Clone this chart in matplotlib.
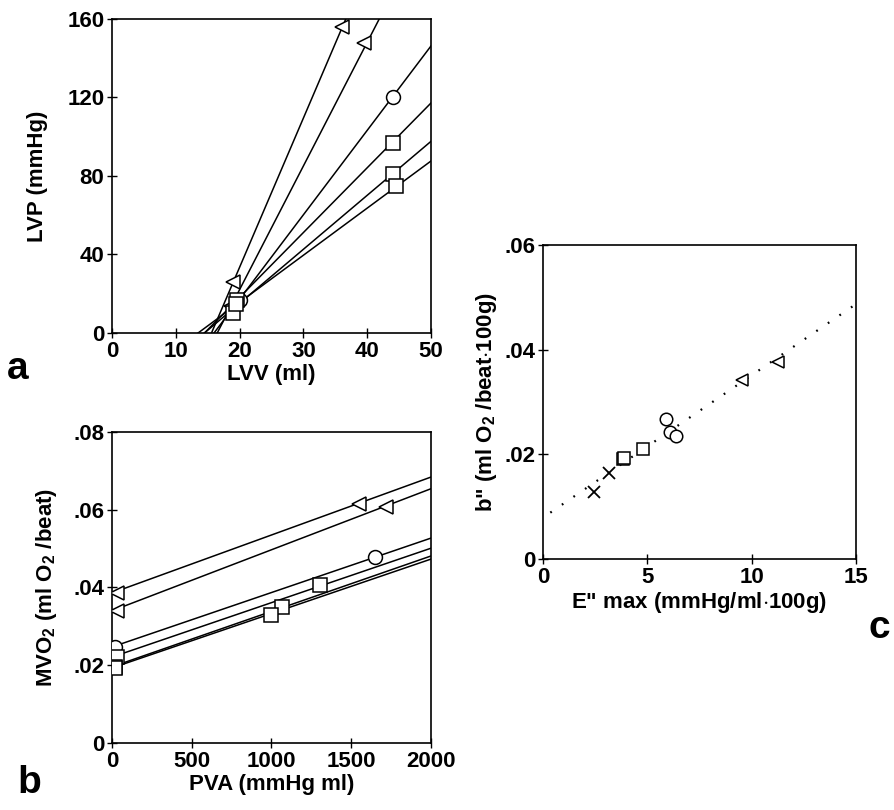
import numpy as np
import matplotlib
matplotlib.use("Agg")
import matplotlib.pyplot as plt
from matplotlib.ticker import FuncFormatter

plt.rcParams['font.family'] = ['Liberation Sans', 'DejaVu Sans']
plt.rcParams['font.weight'] = 'bold'
plt.rcParams['axes.labelweight'] = 'bold'
plt.rcParams['mathtext.fontset'] = 'custom'
plt.rcParams['mathtext.rm'] = 'Liberation Sans:bold'
plt.rcParams['mathtext.it'] = 'Liberation Sans:bold'

# --- panel a: ESPVR lines (LVP vs LVV) ---
a_markers = ['<', '<', 'o', 's', 's', 's']
a_v0 = [15.6, 16.5, 16.0, 14.5, 14.5, 13.5]          # x-intercept (ml)
a_slope = [7.6, 6.3, 4.3, 3.3, 2.75, 2.4]            # mmHg/ml
a_lvv = [[19.0, 36.0], [18.7, 39.5], [20.0, 44.0],
         [19.6, 44.0], [19.0, 44.0], [19.5, 44.5]]
a_lvp = [[26, 156], [14, 148], [17, 120],
         [17, 97], [10, 81], [15, 75]]

# --- panel b: MVO2 vs PVA ---
b_markers = ['<', '<', 'o', 's', 's', 's']
b_icpt = [0.0386, 0.0340, 0.0247, 0.0221, 0.0196, 0.0193]
b_slope = [1.49e-5, 1.57e-5, 1.40e-5, 1.40e-5, 1.425e-5, 1.40e-5]
b_pva = [[30, 1550], [30, 1720], [20, 1650], [30, 1305], [20, 1065], [20, 995]]
b_mvo2 = [[0.0386, 0.0615], [0.0340, 0.0607], [0.0247, 0.0478],
          [0.0222, 0.0406], [0.0196, 0.0350], [0.0193, 0.0330]]

# --- panel c: b" vs E"max ---
c_emax_x = [2.45, 3.17]
c_b_x = [0.0128, 0.0164]
c_emax_sq = [3.82, 3.86, 4.8]
c_b_sq = [0.0191, 0.0193, 0.0210]
c_emax_o = [5.9, 6.08, 6.37]
c_b_o = [0.0268, 0.0243, 0.0235]
c_emax_tri = [9.53, 11.26]
c_b_tri = [0.0342, 0.0377]
c_fit_x = [0.35, 15.0]
c_fit_icpt = 0.0079
c_fit_slope = 0.00272

FS = 16
fig = plt.figure(figsize=(8.95, 8.1), dpi=100)

def style(ax):
    for s in ax.spines.values():
        s.set_linewidth(1.2)
    ax.tick_params(direction='inout', length=7, width=1.0, labelsize=FS, pad=2)

def dotfmt(v, pos):
    if abs(v) < 1e-12:
        return '0'
    return ('%.2f' % v).lstrip('0')

mk = dict(mfc='white', mec='black', mew=1.1, ms=10, ls='none', zorder=3)

# panel a
ax = fig.add_axes([0.1251, 0.5889, 0.3564, 0.3877])
for m, v0, k, xs, ys in zip(a_markers, a_v0, a_slope, a_lvv, a_lvp):
    xx = np.array([v0, 50])
    ax.plot(xx, k * (xx - v0), color='black', lw=1.1)
    ax.plot(xs, ys, marker=m, **mk)
ax.set_xlim(0, 50)
ax.set_ylim(0, 160)
ax.set_xticks([0, 10, 20, 30, 40, 50])
ax.set_yticks([0, 40, 80, 120, 160])
ax.set_xlabel('LVV (ml)', fontsize=FS, labelpad=2)
ax.set_ylabel('LVP (mmHg)', fontsize=FS, labelpad=14)
style(ax)
fig.text(0.02, 0.545, 'a', fontsize=28, fontweight='bold', ha='center', va='center')

# panel b
ax = fig.add_axes([0.1251, 0.0827, 0.3564, 0.384])
for m, b0, k, xs, ys in zip(b_markers, b_icpt, b_slope, b_pva, b_mvo2):
    xx = np.array([0, 2000])
    ax.plot(xx, b0 + k * xx, color='black', lw=1.1)
    ax.plot(xs, ys, marker=m, **mk)
ax.set_xlim(0, 2000)
ax.set_ylim(0, 0.08)
ax.set_xticks([0, 500, 1000, 1500, 2000])
ax.set_yticks([0, 0.02, 0.04, 0.06, 0.08])
ax.yaxis.set_major_formatter(FuncFormatter(dotfmt))
ax.set_xlabel('PVA (mmHg ml)', fontsize=FS, labelpad=2)
ax.set_ylabel('MVO$_2$ (ml O$_2$ /beat)', fontsize=FS, labelpad=10)
style(ax)
fig.text(0.033, 0.033, 'b', fontsize=28, fontweight='bold', ha='center', va='center')

# panel c
ax = fig.add_axes([0.6067, 0.3099, 0.3497, 0.3877])
fx = np.array(c_fit_x)
ax.plot(fx, c_fit_icpt + c_fit_slope * fx, color='black', lw=1.6,
        ls=(0, (0.8, 5.5)))
mk2 = dict(mk, ms=9)
ax.plot(c_emax_x, c_b_x, marker='x', color='black', ls='none', ms=8, mew=1.3)
ax.plot(c_emax_sq, c_b_sq, marker='s', **mk2)
ax.plot(c_emax_o, c_b_o, marker='o', **mk2)
ax.plot(c_emax_tri, c_b_tri, marker='<', **mk2)
ax.set_xlim(0, 15)
ax.set_ylim(0, 0.06)
ax.set_xticks([0, 5, 10, 15])
ax.set_yticks([0, 0.02, 0.04, 0.06])
ax.yaxis.set_major_formatter(FuncFormatter(dotfmt))
ax.set_xlabel('E" max (mmHg/ml$\\cdot$100g)', fontsize=FS, labelpad=2)
ax.set_ylabel('b" (ml O$_2$ /beat$\\cdot$100g)', fontsize=FS, labelpad=4)
style(ax)
fig.text(0.982, 0.225, 'c', fontsize=28, fontweight='bold', ha='center', va='center')

fig.savefig('out.png', dpi=100)
